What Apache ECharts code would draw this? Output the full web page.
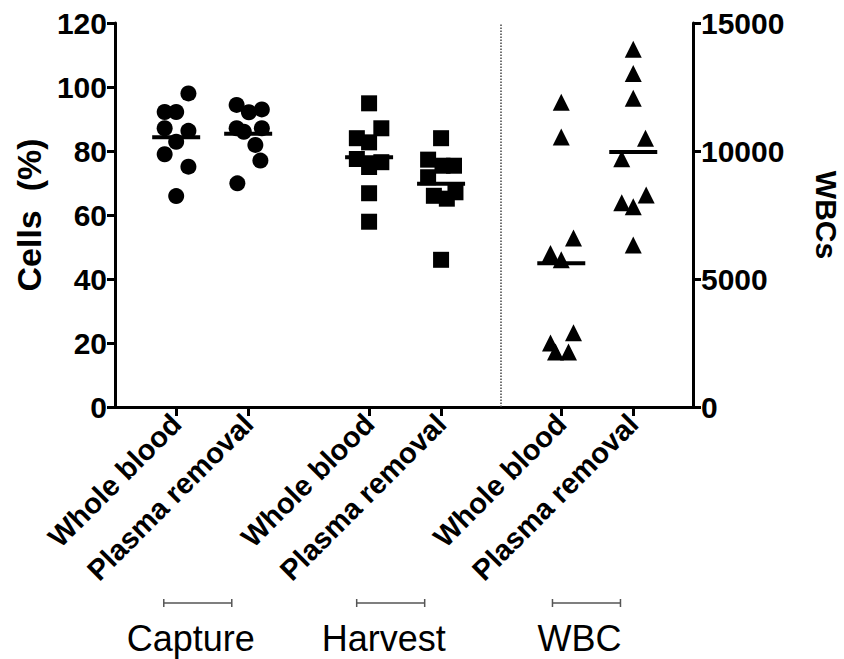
<!DOCTYPE html>
<html>
<head>
<meta charset="utf-8">
<script src="https://cdn.jsdelivr.net/npm/echarts@6/dist/echarts.min.js"></script>
<style>
html,body{margin:0;padding:0;background:#fff;}
#chart{width:844px;height:659px;}
</style>
</head>
<body>
<div id="chart"></div>
<script>
// ---- data ----
const catLabels = ['Whole blood', 'Plasma removal', 'Whole blood', 'Plasma removal', 'Whole blood', 'Plasma removal'];
const groupLabels = ['Capture', 'Harvest', 'WBC'];
const catPos = [0.85, 1.85, 3.53, 4.53, 6.2, 7.2];
const groupPos = [1.15, 3.83, 6.55];
const separatorPos = 5.36;
const xMax = 8.03;

const leftTicks = [0, 20, 40, 60, 80, 100, 120];
const rightTicks = [0, 5000, 10000, 15000];

const captureWhole = [98.0, 92.2, 92.2, 87.1, 86.3, 82.9, 79.0, 75.1, 65.9];
const captureWholeJitter = [0.17, -0.16, 0.0, -0.16, 0.17, 0.0, -0.16, 0.17, 0.0];
const capturePlasma = [94.4, 93.0, 92.1, 87.1, 87.1, 86.0, 81.9, 77.0, 69.9];
const capturePlasmaJitter = [-0.16, 0.19, 0.01, -0.16, 0.19, -0.06, 0.1, 0.17, -0.15];

const harvestWhole = [94.9, 87.1, 84.0, 82.7, 77.5, 76.5, 75.0, 66.8, 57.9];
const harvestWholeJitter = [0.0, 0.17, -0.17, 0.0, -0.17, 0.17, 0.0, 0.0, 0.0];
const harvestPlasma = [84.0, 77.3, 75.4, 75.4, 71.8, 67.1, 66.0, 65.1, 46.0];
const harvestPlasmaJitter = [0.0, -0.18, 0.02, 0.18, -0.18, 0.2, -0.1, 0.08, 0.0];

const wbcWhole = [11900, 10550, 6600, 6000, 5750, 2900, 2500, 2150, 2150];
const wbcWholeJitter = [0.0, 0.0, 0.17, -0.15, 0.0, 0.17, -0.15, -0.08, 0.1];
const wbcPlasma = [13970, 13030, 12060, 10500, 9700, 8280, 7980, 7820, 6330];
const wbcPlasmaJitter = [0.0, 0.0, 0.0, 0.17, -0.16, 0.18, -0.16, 0.0, 0.0];

// ---- build ----
const FONT = 'Liberation Sans, Arial, Helvetica, sans-serif';
const mean = a => a.reduce((s, v) => s + v, 0) / a.length;
const pts = (vals, jit, ci) => vals.map((v, i) => [catPos[ci] + jit[i], v]);

function dots(vals, jit, ci, symbol, size, yIdx) {
  return {
    type: 'scatter', yAxisIndex: yIdx, symbol: symbol, symbolSize: size,
    itemStyle: { color: '#000', opacity: 1 }, silent: true, z: 3,
    data: pts(vals, jit, ci)
  };
}
function meanBar(vals, ci, yIdx) {
  return {
    type: 'scatter', yAxisIndex: yIdx, symbol: 'rect', symbolSize: [48, 4],
    itemStyle: { color: '#000', opacity: 1 }, silent: true, z: 4,
    data: [[catPos[ci], mean(vals)]]
  };
}
function nearestLabel(v) {
  let best = 0;
  catPos.forEach((p, i) => { if (Math.abs(p - v) < Math.abs(catPos[best] - v)) best = i; });
  return catLabels[best];
}

const chart = echarts.init(document.getElementById('chart'), null, { renderer: 'svg' });
const axisBlack = { lineStyle: { color: '#000', width: 3 } };

chart.setOption({
  animation: false,
  backgroundColor: '#fff',
  grid: { left: 115, right: 151, top: 23, bottom: 252, containLabel: false, outerBoundsMode: 'none' },
  xAxis: {
    type: 'value', min: 0, max: xMax,
    axisLine: { show: true, onZero: false, lineStyle: { color: '#000', width: 3 } },
    axisTick: { show: true, customValues: catPos, length: 9, lineStyle: { color: '#000', width: 3 } },
    axisLabel: {
      show: true, customValues: catPos, rotate: 45, margin: 12,
      formatter: v => nearestLabel(v),
      color: '#000', fontFamily: FONT, fontWeight: 'bold', fontSize: 29
    },
    splitLine: { show: false }
  },
  yAxis: [
    {
      type: 'value', min: leftTicks[0], max: leftTicks[leftTicks.length - 1],
      interval: leftTicks[1] - leftTicks[0],
      name: 'Cells  (%)', nameLocation: 'middle', nameGap: 68,
      nameTextStyle: { color: '#000', fontFamily: FONT, fontWeight: 'bold', fontSize: 34 },
      axisLine: { show: true, ...axisBlack },
      axisTick: { show: true, length: 8, lineStyle: { color: '#000', width: 3 } },
      axisLabel: { color: '#000', fontFamily: FONT, fontWeight: 'bold', fontSize: 30, margin: 8,
        formatter: v => String(v) },
      splitLine: { show: false }
    },
    {
      type: 'value', min: rightTicks[0], max: rightTicks[rightTicks.length - 1],
      interval: rightTicks[1] - rightTicks[0], position: 'right',
      name: 'WBCs', nameLocation: 'middle', nameGap: 118, nameRotate: -90,
      nameTextStyle: { color: '#000', fontFamily: FONT, fontWeight: 'bold', fontSize: 30 },
      axisLine: { show: true, ...axisBlack },
      axisTick: { show: true, length: 8, lineStyle: { color: '#000', width: 3 } },
      axisLabel: { color: '#000', fontFamily: FONT, fontWeight: 'bold', fontSize: 30, margin: 8,
        formatter: v => String(v) },
      splitLine: { show: false }
    }
  ],
  series: [
    dots(captureWhole, captureWholeJitter, 0, 'circle', 16, 0),
    dots(capturePlasma, capturePlasmaJitter, 1, 'circle', 16, 0),
    dots(harvestWhole, harvestWholeJitter, 2, 'rect', 16, 0),
    dots(harvestPlasma, harvestPlasmaJitter, 3, 'rect', 16, 0),
    dots(wbcWhole, wbcWholeJitter, 4, 'triangle', 17, 1),
    dots(wbcPlasma, wbcPlasmaJitter, 5, 'triangle', 17, 1),
    meanBar(captureWhole, 0, 0),
    meanBar(capturePlasma, 1, 0),
    meanBar(harvestWhole, 2, 0),
    meanBar(harvestPlasma, 3, 0),
    meanBar(wbcWhole, 4, 1),
    meanBar(wbcPlasma, 5, 1),
    {
      type: 'custom', silent: true, clip: false, z: 2,
      data: groupPos.map((p, i) => [p, i]),
      renderItem: function (params, api) {
        const x = api.coord([api.value(0), 0])[0];
        const base = params.coordSys.y + params.coordSys.height;
        const y = base + 196;
        const half = 34;
        const stroke = { stroke: '#555', lineWidth: 1.5 };
        return {
          type: 'group',
          children: [
            { type: 'line', shape: { x1: x - half, y1: y, x2: x + half, y2: y }, style: stroke },
            { type: 'line', shape: { x1: x - half, y1: y - 4, x2: x - half, y2: y + 4 }, style: stroke },
            { type: 'line', shape: { x1: x + half, y1: y - 4, x2: x + half, y2: y + 4 }, style: stroke },
            {
              type: 'text', x: x - 7, y: y + 35,
              style: {
                text: groupLabels[api.value(1)], fill: '#000', align: 'center', verticalAlign: 'middle',
                font: 'normal 36px ' + FONT
              }
            }
          ]
        };
      }
    },
    {
      type: 'line', data: [], silent: true,
      markLine: {
        silent: true, symbol: 'none', label: { show: false },
        lineStyle: { type: 'dotted', color: '#444', width: 1.5 },
        data: [{ xAxis: separatorPos }]
      }
    }
  ]
});
</script>
</body>
</html>
